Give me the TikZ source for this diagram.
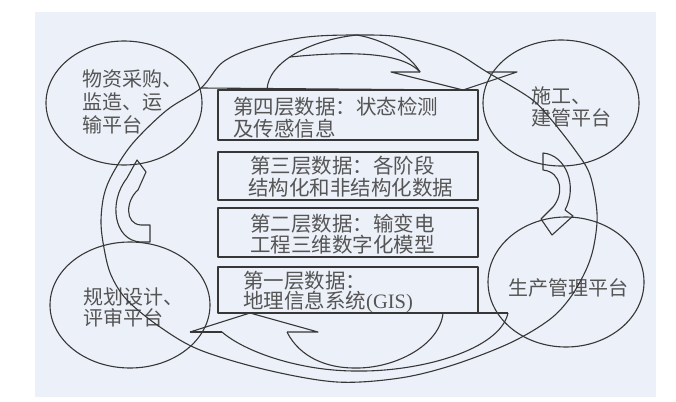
\documentclass[tikz,border=0pt]{standalone}
\usepackage{fontspec}
\setmainfont{Liberation Serif}
\newfontfamily\cjk{Noto Sans CJK SC}
\usetikzlibrary{shapes.geometric}
\definecolor{panel}{RGB}{236,240,248}
\definecolor{ink}{RGB}{55,55,55}
\definecolor{txt}{RGB}{85,85,85}
\begin{document}
\begin{tikzpicture}[x=1pt,y=-1pt,line join=round,
  line/.style={draw=ink, line width=1.1pt},
  plat/.style={ellipse, draw=ink, line width=1.1pt, inner sep=0pt},
  databox/.style={rectangle, draw=ink, line width=1.1pt, minimum width=260pt, inner sep=0pt},
  lbl/.style={anchor=west, inner sep=0pt, text=txt, font=\cjk\fontsize{20.5}{22}\selectfont},
  elbl/.style={anchor=west, inner sep=0pt, text=txt, font=\cjk\fontsize{20}{22}\selectfont}]
\useasboundingbox (0,0) rectangle (676,401);
\fill[white] (0,0) rectangle (676,401);
\fill[panel] (35,12) rectangle (656,397);

% platforms
\node[plat, minimum width=156pt, minimum height=124pt] (e1) at (124,103) {};
\node[plat, minimum width=156pt, minimum height=126pt] (e2) at (561,103) {};
\node[plat, minimum width=160pt, minimum height=126pt] (e3) at (130,305) {};
\node[plat, minimum width=156pt, minimum height=130pt] (e4) at (566,282) {};

\node[elbl] (e1a) at (82,79) {物资采购、};
\node[elbl] (e1b) at (82,102) {监造、运};
\node[elbl] (e1c) at (82,125) {输平台};
\node[elbl] (e2a) at (531,96) {施工、};
\node[elbl] (e2b) at (531,118) {建管平台};
\node[elbl] (e3a) at (83,297) {规划设计、};
\node[elbl] (e3b) at (83,318) {评审平台};
\node[elbl] (e4a) at (508,288) {生产管理平台};

% data layers
\node[databox, minimum height=50pt] (b4) at (348,115) {};
\node[databox, minimum height=48pt] (b3) at (348,176) {};
\node[databox, minimum height=49pt] (b2) at (348,232.5) {};
\node[databox, minimum height=46pt] (b1) at (348,290) {};

\node[lbl] (t4a) at (233,107) {第四层数据：状态检测};
\node[lbl] (t4b) at (233,129) {及传感信息};
\node[lbl] (t3a) at (250,166) {第三层数据：各阶段};
\node[lbl] (t3b) at (248,188) {结构化和非结构化数据};
\node[lbl] (t2a) at (250,224) {第二层数据：输变电};
\node[lbl] (t2b) at (250,245) {工程三维数字化模型};
\node[lbl] (t1a) at (243,281) {第一层数据：};
\node[lbl] (t1b) at (243,302) {地理信息系统{\rmfamily(GIS)}};

% big loop
\draw[line] plot[smooth cycle, tension=0.55] coordinates {
 (201,88) (223,62) (257,47) (307,37) (357,35) (400,37) (450,50) (487,72)
 (530,98) (549,117) (575,150) (590,175) (597,213) (594,245) (586,270)
 (570,298) (549,320) (510,343) (453,365) (400,378) (337,382) (267,370)
 (200,350) (160,327) (127,300) (111,275) (104,248) (101,222) (104,195)
 (113,173) (133,143) (167,110)};

% top arrow
\coordinate (ta) at (201,88);
\coordinate (tfoot) at (267,90);
\coordinate (tmid) at (290,57);
\coordinate (ttop) at (357,35);
\coordinate (tnotchA) at (420,72);
\coordinate (tnotchB) at (391,72);
\coordinate (ttip) at (463,90);
\coordinate (tbarb) at (517,72);
\coordinate (tjoin) at (487,72);
\draw[line] (ta) -- (ttip);
\draw[line] (tfoot) .. controls (268,62) and (310,40) .. (ttop);
\draw[line] (tmid) .. controls (340,52) and (400,50) .. (tnotchA);
\draw[line] (ttop) .. controls (385,40) and (410,55) .. (tnotchA);
\draw[line] (tnotchA) -- (tnotchB) -- (ttip) -- (tbarb) -- (tjoin);

% bottom arrow
\coordinate (btip) at (190,332);
\coordinate (bapex) at (250,313);
\coordinate (bnotchA) at (318,332);
\coordinate (bnotchB) at (287,332);
\coordinate (bouterA) at (222,332);
\coordinate (bfootR) at (508,313);
\coordinate (bfootL) at (443,313);
\coordinate (bbotI) at (354,368);
\coordinate (bbotO) at (356,371);
\draw[line] (bapex) -- (bfootR);
\draw[line] (btip) -- (bapex) -- (bnotchA) -- (bnotchB);
\draw[line] (btip) -- (bouterA);
\draw[line] (bnotchB) .. controls (300,358) and (328,368) .. (bbotI) .. controls (395,369) and (440,345) .. (bfootL);
\draw[line] (bouterA) .. controls (245,352) and (300,371) .. (bbotO) .. controls (420,372) and (500,350) .. (bfootR);

% left arrow (up)
\draw[line] (150,225) -- (150,242) -- (140,242) .. controls (114,240) and (108,202) .. (127,178)
  -- (137,160) -- (146,172) -- (138,190) .. controls (126,200) and (124,224) .. (141,225) -- cycle;

% right arrow (down)
\draw[line] (543,153) .. controls (566,155) and (578,186) .. (565,210) -- (573,216) -- (552,235)
  -- (541,219) -- (553,207) .. controls (564,194) and (562,172) .. (543,170) -- cycle;
\end{tikzpicture}
\end{document}
